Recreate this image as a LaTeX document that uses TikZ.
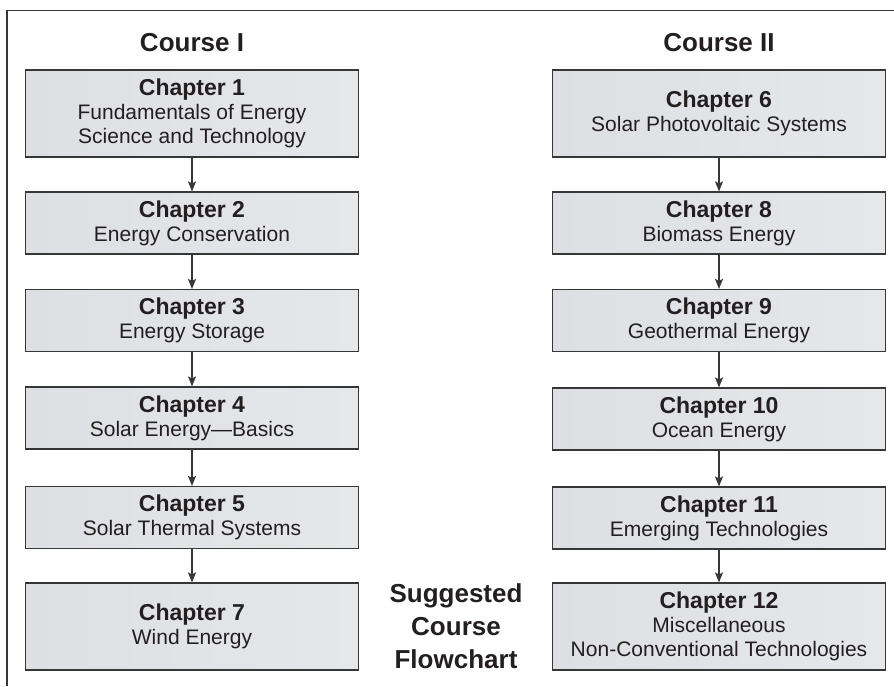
\documentclass[tikz,border=0pt]{standalone}
\usepackage{fontspec}
\setmainfont{Liberation Sans}
\definecolor{flowtext}{RGB}{35,31,32}
\definecolor{flowline}{RGB}{55,55,55}
\definecolor{boxleft}{RGB}{222,223,226}
\definecolor{boxmid}{RGB}{246,246,246}
\definecolor{boxright}{RGB}{230,231,233}
\usetikzlibrary{arrows.meta,shadows}
\newcommand{\chhead}[1]{{\fontsize{23}{24}\selectfont\bfseries #1}}

\begin{document}
\begin{tikzpicture}[
  x=1pt, y=1pt,
  >={Stealth[length=10pt,width=8pt,inset=2pt]},
  chap/.style={draw=flowline, line width=1.2pt, left color=boxleft, middle color=boxmid, right color=boxright,
    minimum width=333pt, minimum height=62pt, inner sep=0pt, align=center, text=flowtext,
    font=\fontsize{21}{24}\selectfont,
    drop shadow={shadow xshift=0.8pt, shadow yshift=-0.8pt, fill=black!60, opacity=1}},
  bigchap/.style={chap, minimum height=87pt},
  head/.style={text=flowtext, font=\fontsize{26}{33}\selectfont\bfseries, align=center},
  arr/.style={->, line width=1.2pt, flowline}
]
\useasboundingbox (0,0) rectangle (894,-686);

% frame
\draw[line width=1.3pt, flowline] (7,-686) -- (7,-10.5) -- (894,-10.5);

% Course I
\node[head, anchor=base] (course1) at (192,-51) {Course I};
\node[bigchap] (c1) at (192,-113.5) {\chhead{Chapter 1}\\Fundamentals of Energy\\Science and Technology};
\node[chap] (c2) at (192,-223) {\chhead{Chapter 2}\\Energy Conservation};
\node[chap] (c3) at (192,-320.5) {\chhead{Chapter 3}\\Energy Storage};
\node[chap] (c4) at (192,-418) {\chhead{Chapter 4}\\Solar Energy---Basics};
\node[chap] (c5) at (192,-517.5) {\chhead{Chapter 5}\\Solar Thermal Systems};
\node[bigchap] (c7) at (192,-626.5) {\chhead{Chapter 7}\\Wind Energy};

\draw[arr] (c1) -- (c2);
\draw[arr] (c2) -- (c3);
\draw[arr] (c3) -- (c4);
\draw[arr] (c4) -- (c5);
\draw[arr] (c5) -- (c7);

% Course II
\node[head, anchor=base] (course2) at (719,-51) {Course II};
\node[bigchap] (c6) at (719,-113.5) {\chhead{Chapter 6}\\Solar Photovoltaic Systems};
\node[chap] (c8) at (719,-223) {\chhead{Chapter 8}\\Biomass Energy};
\node[chap] (c9) at (719,-320.5) {\chhead{Chapter 9}\\Geothermal Energy};
\node[chap] (c10) at (719,-419) {\chhead{Chapter 10}\\Ocean Energy};
\node[chap] (c11) at (719,-518) {\chhead{Chapter 11}\\Emerging Technologies};
\node[bigchap] (c12) at (719,-626.5) {\chhead{Chapter 12}\\Miscellaneous\\Non-Conventional Technologies};

\draw[arr] (c6) -- (c8);
\draw[arr] (c8) -- (c9);
\draw[arr] (c9) -- (c10);
\draw[arr] (c10) -- (c11);
\draw[arr] (c11) -- (c12);

\node[head] (suggest) at (456,-626) {Suggested\\Course\\Flowchart};
\end{tikzpicture}
\end{document}
